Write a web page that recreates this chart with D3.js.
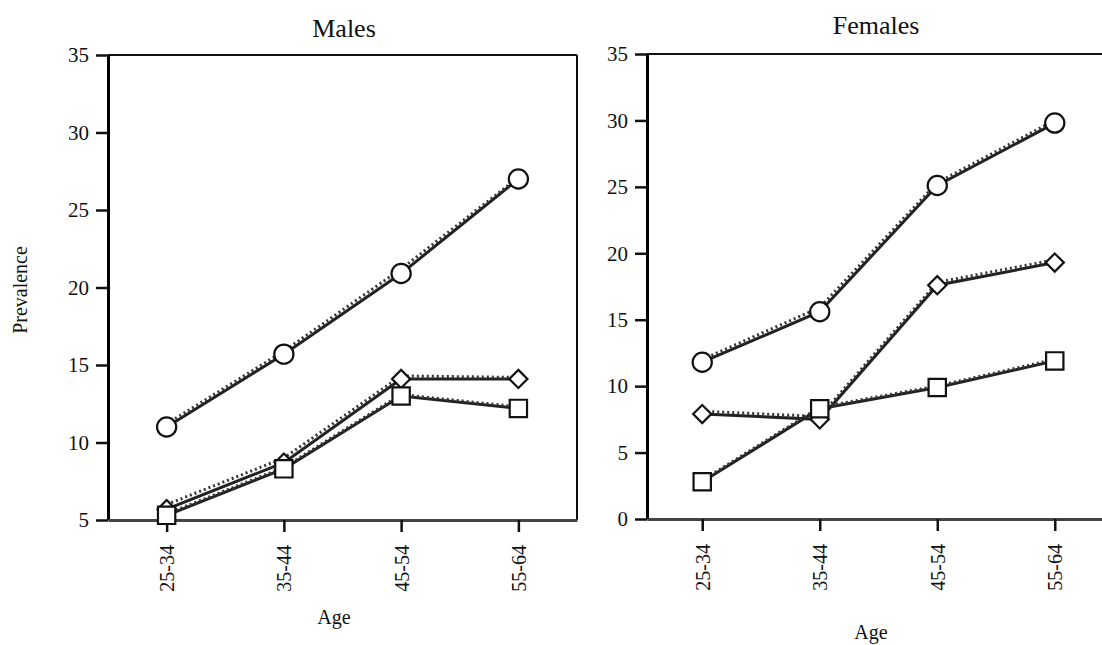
<!DOCTYPE html>
<html>
<head>
<meta charset="utf-8">
<script src="https://cdn.jsdelivr.net/npm/d3@7"></script>
<style>
  html, body { margin: 0; padding: 0; background: #fff; }
  svg { display: block; }
  svg text { font-family: "Liberation Serif", "Times New Roman", serif; fill: #111; }
</style>
</head>
<body>
<div id="chart"></div>
<script>

    // Age groups (x categories)
    var ages = ["25-34", "35-44", "45-54", "55-64"];

    // Males - observed (solid) and fitted (dotted) per marker type
    var maleCircle     = [11.0, 15.7, 20.9, 27.0];
    var maleCircleFit  = [11.1, 15.8, 21.1, 27.0];
    var maleDiamond    = [5.7, 8.7, 14.1, 14.1];
    var maleDiamondFit = [5.9, 8.9, 14.2, 14.1];
    var maleSquare     = [5.3, 8.3, 13.0, 12.2];
    var maleSquareFit  = [5.3, 8.3, 13.0, 12.2];

    // Females
    var femaleCircle     = [11.8, 15.6, 25.1, 29.8];
    var femaleCircleFit  = [11.9, 15.8, 25.2, 29.9];
    var femaleDiamond    = [7.9, 7.5, 17.6, 19.3];
    var femaleDiamondFit = [8.0, 7.6, 17.7, 19.4];
    var femaleSquare     = [2.8, 8.3, 9.9, 11.9];
    var femaleSquareFit  = [2.8, 8.3, 9.9, 11.9];

    var maleTicks = [5, 10, 15, 20, 25, 30, 35];
    var femaleTicks = [0, 5, 10, 15, 20, 25, 30, 35];

    var iWidth = 1102, iHeight = 645;

    var dSVG = d3.select("#chart").append("svg")
        .attr("width", iWidth)
        .attr("height", iHeight);

    function drawPanel(oCfg) {

        var x = d3.scalePoint().domain(ages).range([oCfg.left, oCfg.right]).padding(oCfg.pad);
        var y = d3.scaleLinear().domain(oCfg.domain).range([oCfg.bottom, oCfg.top]);

        var dG = dSVG.append("g");

        // frame (top + right)
        dG.append("line")
            .attr("x1", oCfg.left).attr("x2", oCfg.right)
            .attr("y1", oCfg.top).attr("y2", oCfg.top)
            .attr("stroke", "#111").attr("stroke-width", 2);
        dG.append("line")
            .attr("x1", oCfg.right).attr("x2", oCfg.right)
            .attr("y1", oCfg.top).attr("y2", oCfg.bottom)
            .attr("stroke", "#111").attr("stroke-width", 2);

        // y axis
        var yAxis = dG.append("g")
            .attr("transform", "translate(" + oCfg.left + ",0)")
            .call(d3.axisLeft(y).tickValues(oCfg.ticks).tickSize(12).tickPadding(7).tickSizeOuter(0));
        yAxis.attr("font-family", null).attr("font-size", null);
        yAxis.select(".domain").attr("stroke", "#000").attr("stroke-width", 3);
        yAxis.selectAll(".tick line").attr("stroke", "#111").attr("stroke-width", 2.5);
        yAxis.selectAll("text").style("font-size", "21px");

        // x axis
        var xAxis = dG.append("g")
            .attr("transform", "translate(0," + oCfg.bottom + ")")
            .call(d3.axisBottom(x).tickSize(12).tickSizeOuter(0));
        xAxis.attr("font-family", null).attr("font-size", null);
        xAxis.select(".domain").attr("stroke", "#444").attr("stroke-width", 3);
        xAxis.selectAll(".tick line").attr("stroke", "#111").attr("stroke-width", 2.5);
        xAxis.selectAll("text")
            .style("font-size", "20px")
            .attr("transform", "rotate(-90)")
            .attr("text-anchor", "end")
            .attr("x", -25).attr("y", 0).attr("dy", "0.35em");

        var line = d3.line()
            .x(function(d, i) { return x(ages[i]); })
            .y(function(d) { return y(d); });

        var aSeries = oCfg.series;

        // lines first
        aSeries.forEach(function(s) {
            dG.append("path").datum(s.values)
                .attr("d", line)
                .attr("fill", "none")
                .attr("stroke", "#222")
                .attr("stroke-width", 3);
            dG.append("path").datum(s.fit)
                .attr("d", line)
                .attr("fill", "none")
                .attr("stroke", "#333")
                .attr("stroke-width", 3)
                .attr("stroke-dasharray", "2,3")
                .attr("transform", "translate(0,-1.5)");
        });

        // markers
        aSeries.forEach(function(s) {
            var sym = d3.symbol().type(s.shape === "circle" ? d3.symbolCircle : d3.symbolSquare).size(s.size);
            dG.selectAll(null).data(s.values).enter().append("path")
                .attr("d", sym)
                .attr("transform", function(d, i) {
                    return "translate(" + x(ages[i]) + "," + y(d) + ")" + (s.shape === "diamond" ? " rotate(45)" : "");
                })
                .attr("fill", "#fff")
                .attr("stroke", "#111")
                .attr("stroke-width", 2.2);
        });

        // title
        dSVG.append("text")
            .attr("x", oCfg.titleX).attr("y", oCfg.titleY)
            .attr("text-anchor", "middle")
            .style("font-size", "26px")
            .text(oCfg.title);

        dSVG.append("text")
            .attr("x", oCfg.ageX).attr("y", oCfg.ageY)
            .attr("text-anchor", "middle")
            .style("font-size", "20px")
            .text("Age");
    }

    drawPanel({
        left: 108, right: 577, top: 55, bottom: 520, pad: 0.5,
        domain: [5, 35], ticks: maleTicks,
        title: "Males", titleX: 344, titleY: 37,
        ageX: 334, ageY: 624,
        series: [
            { shape: "circle", size: 290, values: maleCircle, fit: maleCircleFit },
            { shape: "diamond", size: 165, values: maleDiamond, fit: maleDiamondFit },
            { shape: "square", size: 300, values: maleSquare, fit: maleSquareFit }
        ]
    });

    drawPanel({
        left: 647, right: 1110, top: 54, bottom: 519, pad: 0.47,
        domain: [0, 35], ticks: femaleTicks,
        title: "Females", titleX: 876, titleY: 34,
        ageX: 871, ageY: 639,
        series: [
            { shape: "circle", size: 290, values: femaleCircle, fit: femaleCircleFit },
            { shape: "diamond", size: 165, values: femaleDiamond, fit: femaleDiamondFit },
            { shape: "square", size: 300, values: femaleSquare, fit: femaleSquareFit }
        ]
    });

    // y axis title
    dSVG.append("text")
        .attr("transform", "translate(27,290) rotate(-90)")
        .attr("text-anchor", "middle")
        .style("font-size", "20px")
        .text("Prevalence");

</script>
</body>
</html>
